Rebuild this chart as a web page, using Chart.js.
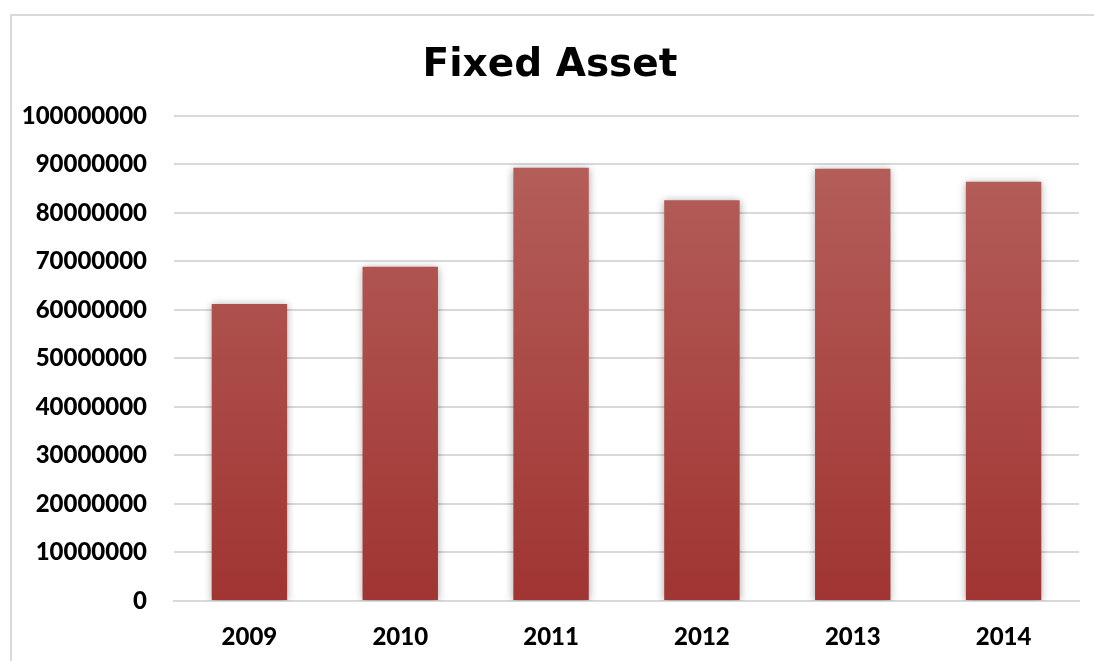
<!DOCTYPE html>
<html>
<head>
<meta charset="utf-8">
<script src="https://cdn.jsdelivr.net/npm/chart.js@4/dist/chart.umd.min.js"></script>
<style>
  html, body { margin: 0; padding: 0; background: #fff; overflow: hidden; }
  #wrap { position: relative; width: 1094px; height: 661px; }
  #frame { position: absolute; left: 10px; top: 14px; width: 1100px; height: 700px;
           border-left: 2px solid #d9d9d9; border-top: 2px solid #d9d9d9; }
  #assetChart { position: absolute; left: 0; top: 0; }
</style>
</head>
<body>
<div id="wrap">
  <div id="frame"></div>
  <canvas id="assetChart" width="1094" height="661"></canvas>
</div>
<script>
// yearly fixed asset totals
const years = ["2009", "2010", "2011", "2012", "2013", "2014"];
const fixedAsset = [61200000, 68900000, 89300000, 82600000, 89100000, 86400000];
const yMax = 100000000;
const yStep = 10000000;

const labelFont = { family: "Lato, 'Open Sans', sans-serif", size: 24, weight: "900" };

// vertical red gradient, lighter at the top of the plot
function barFill(context) {
  const chart = context.chart;
  const area = chart.chartArea;
  if (!area) return "#a8403c";
  const g = chart.ctx.createLinearGradient(0, area.top, 0, area.bottom);
  g.addColorStop(0, "#b6625e");
  g.addColorStop(1, "#a03532");
  return g;
}

// soft drop shadow behind the bars
const barShadow = {
  id: "barShadow",
  beforeDatasetsDraw(chart) {
    const ctx = chart.ctx;
    ctx.save();
    ctx.shadowColor = "rgba(0,0,0,0.35)";
    ctx.shadowBlur = 8;
    ctx.shadowOffsetX = 0;
    ctx.shadowOffsetY = 1;
  },
  afterDatasetsDraw(chart) {
    chart.ctx.restore();
  }
};

const ctx = document.getElementById("assetChart").getContext("2d");

const assetChart = new Chart(ctx, {
  type: "bar",
  data: {
    labels: years,
    datasets: [{
      label: "Fixed Asset",
      data: fixedAsset,
      backgroundColor: barFill,
      borderWidth: 0,
      barPercentage: 0.5,
      categoryPercentage: 1.0
    }]
  },
  options: {
    responsive: false,
    animation: false,
    layout: { padding: { left: 21, right: 15, top: 0, bottom: 0 } },
    plugins: {
      legend: { display: false },
      tooltip: { enabled: false },
      title: {
        display: true,
        text: "Fixed Asset",
        color: "#000",
        font: { family: "'DejaVu Sans', sans-serif", size: 39, weight: "bold" },
        padding: { top: 42, bottom: 27 }
      }
    },
    scales: {
      x: {
        grid: { display: false, drawTicks: false },
        border: { display: true, color: "#d9d9d9", width: 2 },
        ticks: { color: "#000", font: labelFont, padding: 22 },
        afterFit(scale) { scale.height = 60; }
      },
      y: {
        min: 0,
        max: yMax,
        ticks: {
          stepSize: yStep,
          color: "#000",
          font: labelFont,
          padding: 27,
          callback: (v) => String(v)
        },
        grid: { color: "#d9d9d9", lineWidth: 2, drawTicks: false },
        border: { display: false },
        afterFit(scale) { scale.width = 153; }
      }
    }
  },
  plugins: [barShadow]
});
</script>
</body>
</html>
